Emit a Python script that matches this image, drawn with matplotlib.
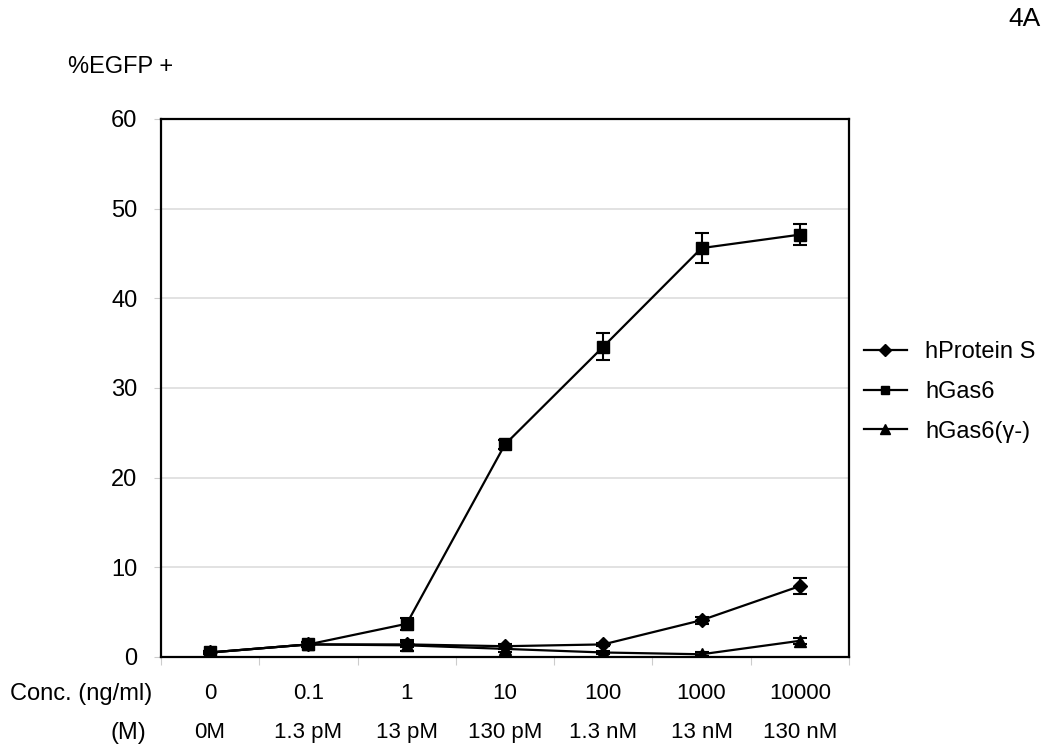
import matplotlib
matplotlib.use("Agg")
import matplotlib.pyplot as plt
from matplotlib.lines import Line2D
import numpy as np

plt.rcParams['font.family'] = ['Liberation Sans', 'DejaVu Sans']

conc_labels = ["0", "0.1", "1", "10", "100", "1000", "10000"]
molar_labels = ["0M", "1.3 pM", "13 pM", "130 pM", "1.3 nM", "13 nM", "130 nM"]
series_names = ["hProtein S", "hGas6", "hGas6(γ-)"]

protein_s = [0.5, 1.4, 1.4, 1.2, 1.4, 4.1, 7.9]
protein_s_err = [0.2, 0.3, 0.3, 0.3, 0.2, 0.4, 0.9]
gas6 = [0.5, 1.4, 3.7, 23.7, 34.6, 45.6, 47.1]
gas6_err = [0.2, 0.3, 0.7, 0.5, 1.5, 1.7, 1.2]
gas6_gm = [0.5, 1.4, 1.3, 0.9, 0.5, 0.3, 1.8]
gas6_gm_err = [0.2, 0.3, 0.6, 0.3, 0.2, 0.2, 0.3]

fig = plt.figure(figsize=(10.5, 7.56), dpi=100)
ax = fig.add_axes([0.1533, 0.131, 0.6552, 0.7116])

x = np.arange(len(conc_labels))
common = dict(color='black', lw=1.6, capsize=5, elinewidth=1.5, capthick=1.5)
ax.errorbar(x, protein_s, yerr=protein_s_err, marker='D', markersize=7, **common)
ax.errorbar(x, gas6, yerr=gas6_err, marker='s', markersize=8, **common)
ax.errorbar(x, gas6_gm, yerr=gas6_gm_err, marker='^', markersize=8, **common)

ax.set_xlim(-0.5, len(conc_labels) - 0.5)
ax.set_ylim(0, 60)
ax.set_yticks(np.arange(0, 61, 10))
ax.yaxis.grid(True, color='#dddddd', lw=1.2)
ax.set_axisbelow(True)
ax.tick_params(axis='y', labelsize=17, length=5, color='#cccccc', pad=12)
ax.set_xticks(np.arange(-0.5, len(conc_labels), 1))
ax.set_xticklabels([])
ax.tick_params(axis='x', length=6, color='#cccccc')
for s in ax.spines.values():
    s.set_color('black')
    s.set_linewidth(1.6)

# category labels
for i in range(len(conc_labels)):
    ax.text(i, -4.1, conc_labels[i], ha='center', va='center', fontsize=16)
    ax.text(i, -8.4, molar_labels[i], ha='center', va='center', fontsize=16)
fig.text(152 / 1050, 1 - 694 / 756, "Conc. (ng/ml)", ha='right', va='center', fontsize=17)
fig.text(146 / 1050, 1 - 733 / 756, "(M)", ha='right', va='center', fontsize=17)

fig.text(68 / 1050, 1 - 67 / 756, "%EGFP +", ha='left', va='center', fontsize=17)
fig.text(1041 / 1050, 1 - 19 / 756, "4A", ha='right', va='center', fontsize=19)

markers = ['D', 's', '^']
msizes = [6, 6, 7]
handles = [Line2D([], [], color='black', lw=1.6, marker=m, markersize=ms)
           for m, ms in zip(markers, msizes)]
fig.legend(handles, series_names, loc='center left',
           bbox_to_anchor=(864 / 1050, 1 - 392 / 756),
           frameon=False, fontsize=17, handlelength=1.8, labelspacing=0.75,
           handletextpad=0.8, borderpad=0, borderaxespad=0)

fig.savefig("out.png", dpi=100)
